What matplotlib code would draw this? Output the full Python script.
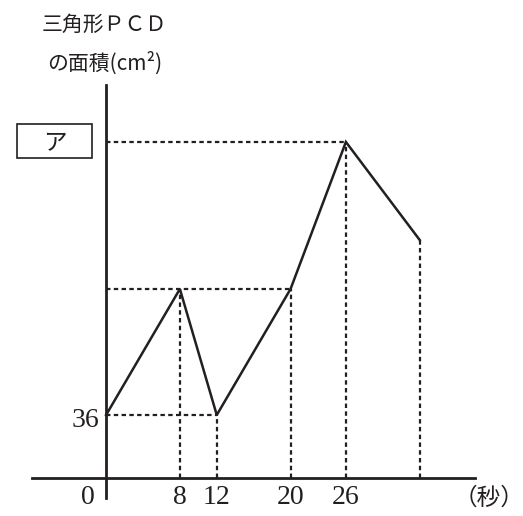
import matplotlib.pyplot as plt
from matplotlib.patches import Rectangle

# seconds and area of triangle PCD (cm^2)
seconds = [0, 8, 12, 20, 26, 34]
area = [36, 108, 36, 108, 192, 136]
tick_secs = [8, 12, 20, 26]
tick_labels = ['8', '12', '20', '26']

ink = '#231f20'
num_font = ['Liberation Serif', 'Noto Sans CJK JP']
jp_font = ['Noto Sans CJK JP', 'Liberation Serif']

fig = plt.figure(figsize=(5.23, 5.16), dpi=100)
ax = fig.add_axes([0, 0, 1, 1])
ax.set_xlim(-11.5, 45.2)
ax.set_ylim(-21.7, 273.1)
ax.patch.set_visible(False)

# axes drawn as spines through the origin
for side in ['top', 'right']:
    ax.spines[side].set_visible(False)
ax.spines['left'].set_position(('data', 0))
ax.spines['bottom'].set_position(('data', 0))
ax.spines['left'].set_bounds(-11.4, 224.6)
ax.spines['bottom'].set_bounds(-8.0, 40.0)
for side in ['left', 'bottom']:
    ax.spines[side].set_linewidth(2)
    ax.spines[side].set_color(ink)
ax.set_xticks([])
ax.set_yticks([])

# dashed guide lines
dash = dict(color=ink, lw=1.6, linestyle=(0, (2.0, 1.5)))
for x, y in zip(seconds, area):
    if x > 0:
        ax.plot([x, x], [0, y], **dash)
ax.plot([0, 12], [36, 36], **dash)
ax.plot([0, 20], [108, 108], **dash)
ax.plot([0, 26], [192, 192], **dash)

# the graph itself
ax.plot(seconds, area, color=ink, lw=1.8, solid_joinstyle='miter')

# labels
for x, lab in zip(tick_secs, tick_labels):
    ax.text(x, -11.4, lab, ha='center', va='center', fontsize=20,
            family=num_font, color=ink)
ax.text(-1.95, -11.4, '0', ha='center', va='center', fontsize=20,
        family=num_font, color=ink)
ax.text(-0.7, 33.1, '36', ha='right', va='center', fontsize=20,
        family=num_font, color=ink)
ax.text(41.5, -11.4, '（秒）', ha='center', va='center', fontsize=17,
        family=jp_font, color=ink)

ax.text(-0.2, 258.9, '三角形ＰＣＤ', ha='center', va='center', fontsize=15,
        family=jp_font, color=ink)
ax.text(-0.2, 237.1, 'の面積(cm²)', ha='center', va='center', fontsize=15,
        family=jp_font, color=ink)

# answer box
ax.add_patch(Rectangle((-9.65, 182.9), 8.13, 19.4, fill=False,
                       edgecolor=ink, lw=1.2))
ax.text(-5.6, 191.3, 'ア', ha='center', va='center', fontsize=17,
        family=jp_font, color=ink)

fig.savefig('out.png', dpi=100)
